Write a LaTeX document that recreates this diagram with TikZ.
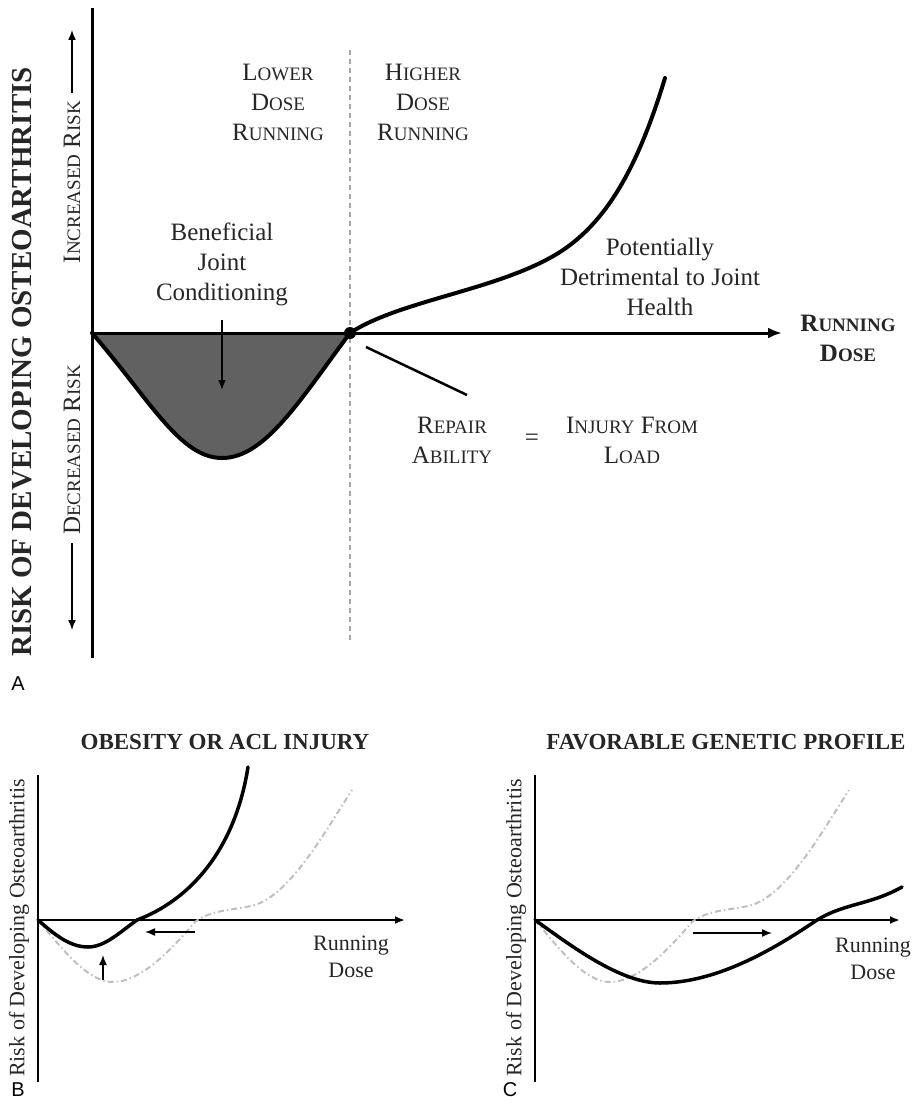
\documentclass[tikz,border=0pt]{standalone}
\usepackage{fontspec}
\setmainfont{Liberation Serif}
\newfontfamily\panelfont{Liberation Sans}
\usetikzlibrary{positioning,arrows.meta}

% fake small caps
\newcommand{\sm}[1]{{\fontsize{19}{30}\selectfont #1}}

\begin{document}
\begin{tikzpicture}[x=1pt,y=-1pt,
    axis/.style={line width=3pt},
    curve/.style={line width=4pt, line cap=round},
    refcurve/.style={gray!50, line width=2pt, dash pattern=on 6pt off 3pt on 1.5pt off 3pt},
    lbl/.style={inner sep=0pt, align=center, text=black!85, font=\fontsize{25}{30}\selectfont},
    small/.style={inner sep=0pt, align=center, text=black!85, font=\fontsize{22}{27}\selectfont},
    title/.style={inner sep=0pt, text=black!85, font=\fontsize{23}{27}\selectfont\bfseries},
    letter/.style={inner sep=0pt, font=\panelfont\fontsize{20}{24}\selectfont},
    tip/.style={-{Latex[length=14pt,width=11pt]}},
    smalltip/.style={-{Latex[length=10pt,width=8pt]}}]
  \useasboundingbox (0,0) rectangle (920,1108);

  % Panel A: axes
  \coordinate (yTop) at (92,8);
  \coordinate (yBot) at (92,658);
  \coordinate (origin) at (92,333);
  \coordinate (xEnd) at (782,333);
  \coordinate (cross) at (350,333);
  \draw[gray!70, line width=1.5pt, dash pattern=on 5pt off 4pt] (350,50) -- (350,640);
  \draw[axis] (yTop) -- (yBot);

  % Beneficial area
  \coordinate (dip) at (222,458);
  \fill[black!62] (origin) .. controls (150,400) and (180,458) .. (dip)
    .. controls (265,458) and (300,400) .. (cross) -- cycle;
  \draw[curve] (origin) .. controls (150,400) and (180,458) .. (dip)
    .. controls (265,458) and (300,400) .. (cross);
  \draw[axis, tip] (origin) -- (xEnd);

  % Rising part
  \draw[curve] (cross) .. controls (400,300) and (500,290) .. (560,252)
    .. controls (610,220) and (640,160) .. (665,78);
  \fill (cross) circle (6pt);

  % Axis labels
  \node[inner sep=0pt, rotate=90, text=black!85, font=\fontsize{29}{30}\selectfont\bfseries] (riskA) at (22,362) {RISK OF DEVELOPING OSTEOARTHRITIS};
  \node[lbl, rotate=90] (incr) at (72,182) {I\sm{NCREASED} R\sm{ISK}};
  \node[lbl, rotate=90] (decr) at (72,450) {D\sm{ECREASED} R\sm{ISK}};
  \coordinate (incrTip) at (72,30);
  \coordinate (decrTip) at (72,630);
  \draw[line width=1.5pt, smalltip] (incr.east) ++(0,-8) -- (incrTip);
  \draw[line width=1.5pt, smalltip] (decr.west) ++(0,8) -- (decrTip);
  \node[lbl, font=\fontsize{25}{30}\selectfont\bfseries] (dose) at (848,338) {R\sm{\bfseries UNNING}\\D\sm{\bfseries OSE}};

  % Region labels
  \node[lbl] (lower) at (278,102) {L\sm{OWER}\\D\sm{OSE}\\R\sm{UNNING}};
  \node[lbl] (higher) at (423,102) {H\sm{IGHER}\\D\sm{OSE}\\R\sm{UNNING}};
  \node[lbl] (benefit) at (222,264) {Beneficial\\Joint\\Conditioning};
  \coordinate (benTop) at (222,320);
  \coordinate (benTip) at (222,390);
  \draw[line width=1.8pt, smalltip] (benTop) -- (benTip);
  \node[lbl] (detri) at (660,277) {Potentially\\Detrimental to Joint\\Health};

  % Balance point
  \node[lbl] (repair) at (452,440) {R\sm{EPAIR}\\A\sm{BILITY}};
  \node[lbl] (equal) at (532,440) {=};
  \node[lbl] (injury) at (632,440) {I\sm{NJURY} F\sm{ROM}\\L\sm{OAD}};
  \coordinate (pointer) at (366,347);
  \draw[line width=2.5pt] (pointer) -- (467,395);
  \node[letter] (labA) at (18,684) {A};

  % Panels B and C: axes and labels
  \foreach \p/\ox/\xe in {b/38/405, c/535/900} {
    \coordinate (\p orig) at (\ox,920);
    \draw[line width=2.5pt] (\ox,775) -- (\ox,1082);
    \draw[line width=2.5pt, smalltip] (\p orig) -- (\xe,920);
    \node[small, rotate=90] (\p risk) at (\ox-19,928) {Risk of Developing Osteoarthritis};
    % reference curve
    \draw[refcurve, shift={(\ox,920)}] (0,0) .. controls (25,30) and (50,62) .. (75,62)
      .. controls (105,62) and (138,24) .. (157,2) .. controls (172,-10) and (195,-10) .. (213,-14)
      .. controls (250,-22) and (285,-85) .. (314,-130);
  }
  \node[small] (bdose) at (351,957) {Running\\Dose};
  \node[small] (cdose) at (873,959) {Running\\Dose};
  \node[title] (btitle) at (225,742) {OBESITY OR ACL INJURY};
  \node[title] (ctitle) at (726,742) {FAVORABLE GENETIC PROFILE};
  \node[letter] (labB) at (18,1090) {B};
  \node[letter] (labC) at (510,1090) {C};

  % Panel B curve and shifts
  \draw[curve, line width=3.5pt] (borig) .. controls (55,935) and (70,947) .. (88,947)
    .. controls (105,947) and (120,932) .. (137,920)
    .. controls (190,900) and (235,850) .. (248,767);
  \coordinate (bshiftA) at (195,932);
  \coordinate (bshiftB) at (145,932);
  \draw[line width=1.5pt, smalltip] (bshiftA) -- (bshiftB);
  \coordinate (bupA) at (103,980);
  \coordinate (bupB) at (103,955);
  \draw[line width=1.5pt, smalltip] (bupA) -- (bupB);

  % Panel C curve and shift
  \draw[curve, line width=3.5pt] (corig) .. controls (570,945) and (620,983) .. (660,983)
    .. controls (720,983) and (780,945) .. (817,920)
    .. controls (845,903) and (870,905) .. (902,887);
  \coordinate (cshiftA) at (693,933);
  \coordinate (cshiftB) at (772,933);
  \draw[line width=1.5pt, smalltip] (cshiftA) -- (cshiftB);
\end{tikzpicture}
\end{document}
